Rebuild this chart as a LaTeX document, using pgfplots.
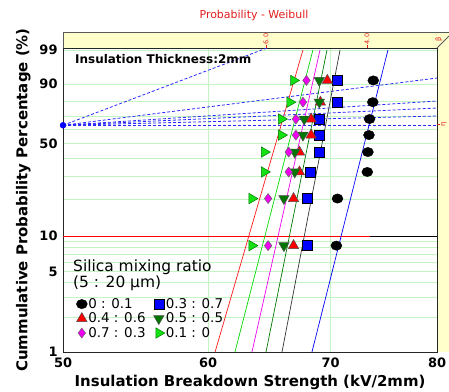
\documentclass[border=0pt]{standalone}
\usepackage{pgfplots}
\pgfplotsset{compat=1.18}
\usepackage{fontspec}
\setmainfont{DejaVu Sans}
\definecolor{gridgreen}{RGB}{195,245,195}
\definecolor{dkgreen}{RGB}{0,120,0}
\definecolor{brgreen}{RGB}{20,225,20}
\definecolor{mag}{RGB}{240,0,240}
\definecolor{bandyellow}{RGB}{255,255,204}
\definecolor{titlered}{RGB}{225,30,30}
\definecolor{dashblue}{RGB}{40,40,255}
\begin{document}
\begin{tikzpicture}
\useasboundingbox (-63bp,-40bp) rectangle (386bp,352bp);
\fill[bandyellow] (0bp,304bp) rectangle (386bp,320bp);
\fill[bandyellow] (374bp,0bp) rectangle (386bp,320bp);
\begin{axis}[
  at={(0,0)}, anchor=south west,
  scale only axis, width=374bp, height=304bp,
  xmode=log, xmin=50, xmax=80,
  ymin=-4.60015, ymax=1.568,
  xtick={50,60,70,80}, xticklabels={50,60,70,80},
  minor xtick={},
  ytick={-4.60015,-3.90194,-3.49137,-3.19853,-2.97020,-2.78263,-2.62319,-2.48432,-2.36116,-2.25037,-1.49994,-1.03093,-0.67173,-0.36651,-0.08742,0.18563,0.47588,0.83403,1.52718},
  yticklabels={1,,,,5,,,,,10,,,,50,,,,90,99},
  grid=major, grid style={gridgreen, line width=0.9bp},
  major tick length=0pt,
  axis line style={black!85, line width=0.9bp},
  tick label style={font=\bfseries\fontsize{13}{13}\selectfont},
  yticklabel style={xshift=-2bp},
  xticklabel style={yshift=-2bp},
  xlabel={Insulation Breakdown Strength (kV/2mm)},
  ylabel={Cummulative Probability Percentage (\%)},
  label style={font=\bfseries\fontsize{15}{15}\selectfont},
  x label style={at={(axis description cs:0.5,-0.0987)}, anchor=center},
  y label style={at={(axis description cs:-0.106,0.5)}, anchor=center},
  clip=false,
  legend columns=2,
  legend cell align=left,
  legend style={draw=none, fill=none, font=\fontsize{13.5}{13.5}\selectfont,
    at={(axis description cs:0.027,0.187)}, anchor=north west,
    row sep=1bp, nodes={inner sep=1bp},
    /tikz/every even column/.append style={column sep=7bp}},
]
% 10% lines
\addplot[black, line width=0.8bp, forget plot] coordinates {(50,-2.25037) (80,-2.25037)};
\addplot[red, line width=0.8bp, forget plot] coordinates {(50,-2.25037) (73.5,-2.25037)};
% beta estimation lines
\addplot[dashblue, line width=0.8bp, dash pattern=on 3bp off 2bp, forget plot] coordinates {(50,0) (64.61,1.568)};
\addplot[dashblue, line width=0.8bp, dash pattern=on 3bp off 2bp, forget plot] coordinates {(50,0) (80,0.959)};
\addplot[dashblue, line width=0.8bp, dash pattern=on 3bp off 2bp, forget plot] coordinates {(50,0) (80,0.492)};
\addplot[dashblue, line width=0.8bp, dash pattern=on 3bp off 2bp, forget plot] coordinates {(50,0) (80,0.350)};
\addplot[dashblue, line width=0.8bp, dash pattern=on 3bp off 2bp, forget plot] coordinates {(50,0) (80,0.188)};
\addplot[dashblue, line width=0.8bp, dash pattern=on 3bp off 2bp, forget plot] coordinates {(50,0) (80,0.0)};
% fitted lines
\addplot[red!90, line width=0.7bp, forget plot] coordinates {(60.53,-4.60015) (67.60,1.52718)};
\addplot[green!85!black, line width=0.7bp, forget plot] coordinates {(62.06,-4.60015) (68.45,1.52718)};
\addplot[mag, line width=0.7bp, forget plot] coordinates {(63.40,-4.60015) (69.06,1.52718)};
\addplot[dkgreen, line width=0.7bp, forget plot] coordinates {(64.53,-4.60015) (69.67,1.52718)};
\addplot[black!80, line width=0.7bp, forget plot] coordinates {(65.84,-4.60015) (70.82,1.52718)};
\addplot[blue, line width=0.7bp, forget plot] coordinates {(68.37,-4.60015) (75.22,1.52718)};
\addplot[only marks, mark=*, mark size=3bp, blue, forget plot] coordinates {(50,0)};
% data
\addplot[only marks, mark=*, mark size=5.5bp, black, mark options={yscale=0.85}] coordinates {
(70.5,-2.44171) (70.6,-1.48664) (73.3,-0.94735) (73.35,-0.54357) (73.45,-0.19858) (73.5,0.12663) (73.8,0.46850) (73.85,0.91024)};
\addlegendentry{0 : 0.1}
\addplot[only marks, mark=square*, mark size=5bp, blue, mark options={draw=black, fill=blue, line width=0.5bp}] coordinates {
(68.0,-2.44171) (68.0,-1.48664) (68.2,-0.94735) (69.0,-0.54357) (69.0,-0.19858) (69.0,0.12663) (70.6,0.46850) (70.6,0.91024)};
\addlegendentry{0.3 : 0.7}
\addplot[only marks, mark=triangle*, mark size=6bp, red, mark options={draw=black!70, fill=red, line width=0.5bp}] coordinates {
(66.8,-2.44171) (66.8,-1.48664) (67.3,-0.94735) (67.3,-0.54357) (68.3,-0.19858) (68.3,0.12663) (69.1,0.46850) (69.7,0.91024)};
\addlegendentry{0.4 : 0.6}
\addplot[only marks, mark=triangle*, mark size=6bp, dkgreen, mark options={rotate=180, draw=black!70, fill=dkgreen, line width=0.5bp}] coordinates {
(66.0,-2.44171) (66.0,-1.48664) (66.9,-0.94735) (66.9,-0.54357) (67.6,-0.19858) (67.7,0.12663) (69.0,0.46850) (69.0,0.91024)};
\addlegendentry{0.5 : 0.5}
\addplot[only marks, mark=diamond*, mark size=5bp, mag, mark options={draw=black!60, fill=mag, line width=0.5bp}] coordinates {
(64.7,-2.44171) (64.7,-1.48664) (66.4,-0.94735) (66.4,-0.54357) (67.0,-0.19858) (67.0,0.12663) (67.6,0.46850) (67.9,0.91024)};
\addlegendentry{0.7 : 0.3}
\addplot[only marks, mark=triangle*, mark size=6bp, brgreen, mark options={rotate=-90, draw=dkgreen, fill=brgreen, line width=0.5bp}] coordinates {
(63.4,-2.44171) (63.4,-1.48664) (64.4,-0.94735) (64.4,-0.54357) (65.8,-0.19858) (65.8,0.12663) (66.5,0.46850) (66.8,0.91024)};
\addlegendentry{0.1 : 0}
\end{axis}
% band borders and scales
\draw[black!65, line width=0.8bp] (0bp,304bp) -- (0bp,320bp) -- (386bp,320bp);
\draw[black!65, line width=0.8bp] (374bp,304bp) -- (386bp,316bp);
\draw[titlered, line width=0.6bp] (203bp,304bp) -- (203bp,307bp);
\draw[titlered, line width=0.6bp] (304bp,304bp) -- (304bp,307bp);
\node[rotate=90, text=titlered, font=\fontsize{6.5}{6.5}\selectfont, inner sep=0pt] at (203bp,313bp) {6.0};
\node[rotate=90, text=titlered, font=\fontsize{6.5}{6.5}\selectfont, inner sep=0pt] at (304bp,313bp) {4.0};
\node[rotate=90, text=titlered, font=\fontsize{7}{7}\selectfont, inner sep=0pt] at (376bp,313bp) {β};
\draw[titlered, line width=0.6bp] (374bp,228bp) -- (377bp,228bp);
\node[rotate=90, text=titlered, font=\fontsize{7}{7}\selectfont, inner sep=0pt] at (381bp,228bp) {η};
\node[text=titlered, font=\fontsize{11}{11}\selectfont] at (191bp,337bp) {Probability - Weibull};
\node[anchor=west, font=\bfseries\fontsize{12}{12}\selectfont, inner sep=0pt] at (12bp,293bp) {Insulation Thickness:2mm};
\node[anchor=west, font=\fontsize{15.5}{15.5}\selectfont, inner sep=0pt] at (10bp,85bp) {Silica mixing ratio};
\node[anchor=west, font=\fontsize{15.5}{15.5}\selectfont, inner sep=0pt] at (10bp,69bp) {(5 : 20 μm)};
\end{tikzpicture}
\end{document}
